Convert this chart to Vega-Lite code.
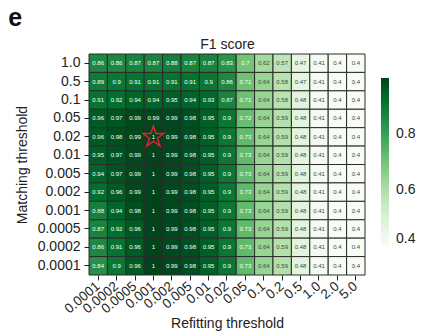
{
  "$schema": "https://vega.github.io/schema/vega-lite/v6.json",
  "width": 276,
  "height": 221,
  "padding": {"left": 8, "top": 6, "right": 5, "bottom": 5},
  "title": {
    "text": "e",
    "anchor": "start",
    "frame": "bounds",
    "fontSize": 25,
    "fontWeight": "bold",
    "color": "#111",
    "dx": -7,
    "offset": 6
  },
  "config": {
    "font": "Liberation Sans",
    "view": {"stroke": null},
    "axis": {
      "labelFontSize": 14,
      "titleFontSize": 14,
      "titleFontWeight": "normal",
      "labelColor": "#222",
      "titleColor": "#222",
      "tickColor": "#222",
      "domain": false,
      "grid": false
    }
  },
  "data": {
    "values": [
      {"m": "1.0", "r": "0.0001", "f1": 0.86}, {"m": "1.0", "r": "0.0002", "f1": 0.86}, {"m": "1.0", "r": "0.0005", "f1": 0.87}, {"m": "1.0", "r": "0.001", "f1": 0.87}, {"m": "1.0", "r": "0.002", "f1": 0.88}, {"m": "1.0", "r": "0.005", "f1": 0.87}, {"m": "1.0", "r": "0.01", "f1": 0.87}, {"m": "1.0", "r": "0.02", "f1": 0.83}, {"m": "1.0", "r": "0.05", "f1": 0.7}, {"m": "1.0", "r": "0.1", "f1": 0.62}, {"m": "1.0", "r": "0.2", "f1": 0.57}, {"m": "1.0", "r": "0.5", "f1": 0.47}, {"m": "1.0", "r": "1.0", "f1": 0.41}, {"m": "1.0", "r": "2.0", "f1": 0.4}, {"m": "1.0", "r": "5.0", "f1": 0.4},
      {"m": "0.5", "r": "0.0001", "f1": 0.89}, {"m": "0.5", "r": "0.0002", "f1": 0.9}, {"m": "0.5", "r": "0.0005", "f1": 0.91}, {"m": "0.5", "r": "0.001", "f1": 0.91}, {"m": "0.5", "r": "0.002", "f1": 0.91}, {"m": "0.5", "r": "0.005", "f1": 0.91}, {"m": "0.5", "r": "0.01", "f1": 0.9}, {"m": "0.5", "r": "0.02", "f1": 0.86}, {"m": "0.5", "r": "0.05", "f1": 0.71}, {"m": "0.5", "r": "0.1", "f1": 0.64}, {"m": "0.5", "r": "0.2", "f1": 0.58}, {"m": "0.5", "r": "0.5", "f1": 0.47}, {"m": "0.5", "r": "1.0", "f1": 0.41}, {"m": "0.5", "r": "2.0", "f1": 0.4}, {"m": "0.5", "r": "5.0", "f1": 0.4},
      {"m": "0.1", "r": "0.0001", "f1": 0.91}, {"m": "0.1", "r": "0.0002", "f1": 0.92}, {"m": "0.1", "r": "0.0005", "f1": 0.94}, {"m": "0.1", "r": "0.001", "f1": 0.94}, {"m": "0.1", "r": "0.002", "f1": 0.95}, {"m": "0.1", "r": "0.005", "f1": 0.94}, {"m": "0.1", "r": "0.01", "f1": 0.93}, {"m": "0.1", "r": "0.02", "f1": 0.87}, {"m": "0.1", "r": "0.05", "f1": 0.71}, {"m": "0.1", "r": "0.1", "f1": 0.64}, {"m": "0.1", "r": "0.2", "f1": 0.58}, {"m": "0.1", "r": "0.5", "f1": 0.48}, {"m": "0.1", "r": "1.0", "f1": 0.41}, {"m": "0.1", "r": "2.0", "f1": 0.4}, {"m": "0.1", "r": "5.0", "f1": 0.4},
      {"m": "0.05", "r": "0.0001", "f1": 0.96}, {"m": "0.05", "r": "0.0002", "f1": 0.97}, {"m": "0.05", "r": "0.0005", "f1": 0.99}, {"m": "0.05", "r": "0.001", "f1": 0.99}, {"m": "0.05", "r": "0.002", "f1": 0.99}, {"m": "0.05", "r": "0.005", "f1": 0.98}, {"m": "0.05", "r": "0.01", "f1": 0.95}, {"m": "0.05", "r": "0.02", "f1": 0.9}, {"m": "0.05", "r": "0.05", "f1": 0.72}, {"m": "0.05", "r": "0.1", "f1": 0.64}, {"m": "0.05", "r": "0.2", "f1": 0.59}, {"m": "0.05", "r": "0.5", "f1": 0.48}, {"m": "0.05", "r": "1.0", "f1": 0.41}, {"m": "0.05", "r": "2.0", "f1": 0.4}, {"m": "0.05", "r": "5.0", "f1": 0.4},
      {"m": "0.02", "r": "0.0001", "f1": 0.96}, {"m": "0.02", "r": "0.0002", "f1": 0.98}, {"m": "0.02", "r": "0.0005", "f1": 0.99}, {"m": "0.02", "r": "0.001", "f1": 1, "chosen": true}, {"m": "0.02", "r": "0.002", "f1": 0.99}, {"m": "0.02", "r": "0.005", "f1": 0.98}, {"m": "0.02", "r": "0.01", "f1": 0.95}, {"m": "0.02", "r": "0.02", "f1": 0.9}, {"m": "0.02", "r": "0.05", "f1": 0.73}, {"m": "0.02", "r": "0.1", "f1": 0.64}, {"m": "0.02", "r": "0.2", "f1": 0.59}, {"m": "0.02", "r": "0.5", "f1": 0.48}, {"m": "0.02", "r": "1.0", "f1": 0.41}, {"m": "0.02", "r": "2.0", "f1": 0.4}, {"m": "0.02", "r": "5.0", "f1": 0.4},
      {"m": "0.01", "r": "0.0001", "f1": 0.95}, {"m": "0.01", "r": "0.0002", "f1": 0.97}, {"m": "0.01", "r": "0.0005", "f1": 0.99}, {"m": "0.01", "r": "0.001", "f1": 1}, {"m": "0.01", "r": "0.002", "f1": 0.99}, {"m": "0.01", "r": "0.005", "f1": 0.98}, {"m": "0.01", "r": "0.01", "f1": 0.95}, {"m": "0.01", "r": "0.02", "f1": 0.9}, {"m": "0.01", "r": "0.05", "f1": 0.73}, {"m": "0.01", "r": "0.1", "f1": 0.64}, {"m": "0.01", "r": "0.2", "f1": 0.59}, {"m": "0.01", "r": "0.5", "f1": 0.48}, {"m": "0.01", "r": "1.0", "f1": 0.41}, {"m": "0.01", "r": "2.0", "f1": 0.4}, {"m": "0.01", "r": "5.0", "f1": 0.4},
      {"m": "0.005", "r": "0.0001", "f1": 0.94}, {"m": "0.005", "r": "0.0002", "f1": 0.97}, {"m": "0.005", "r": "0.0005", "f1": 0.99}, {"m": "0.005", "r": "0.001", "f1": 1}, {"m": "0.005", "r": "0.002", "f1": 0.99}, {"m": "0.005", "r": "0.005", "f1": 0.98}, {"m": "0.005", "r": "0.01", "f1": 0.95}, {"m": "0.005", "r": "0.02", "f1": 0.9}, {"m": "0.005", "r": "0.05", "f1": 0.73}, {"m": "0.005", "r": "0.1", "f1": 0.64}, {"m": "0.005", "r": "0.2", "f1": 0.59}, {"m": "0.005", "r": "0.5", "f1": 0.48}, {"m": "0.005", "r": "1.0", "f1": 0.41}, {"m": "0.005", "r": "2.0", "f1": 0.4}, {"m": "0.005", "r": "5.0", "f1": 0.4},
      {"m": "0.002", "r": "0.0001", "f1": 0.92}, {"m": "0.002", "r": "0.0002", "f1": 0.96}, {"m": "0.002", "r": "0.0005", "f1": 0.99}, {"m": "0.002", "r": "0.001", "f1": 1}, {"m": "0.002", "r": "0.002", "f1": 0.99}, {"m": "0.002", "r": "0.005", "f1": 0.98}, {"m": "0.002", "r": "0.01", "f1": 0.95}, {"m": "0.002", "r": "0.02", "f1": 0.9}, {"m": "0.002", "r": "0.05", "f1": 0.73}, {"m": "0.002", "r": "0.1", "f1": 0.64}, {"m": "0.002", "r": "0.2", "f1": 0.59}, {"m": "0.002", "r": "0.5", "f1": 0.48}, {"m": "0.002", "r": "1.0", "f1": 0.41}, {"m": "0.002", "r": "2.0", "f1": 0.4}, {"m": "0.002", "r": "5.0", "f1": 0.4},
      {"m": "0.001", "r": "0.0001", "f1": 0.88}, {"m": "0.001", "r": "0.0002", "f1": 0.94}, {"m": "0.001", "r": "0.0005", "f1": 0.98}, {"m": "0.001", "r": "0.001", "f1": 1}, {"m": "0.001", "r": "0.002", "f1": 0.99}, {"m": "0.001", "r": "0.005", "f1": 0.98}, {"m": "0.001", "r": "0.01", "f1": 0.95}, {"m": "0.001", "r": "0.02", "f1": 0.9}, {"m": "0.001", "r": "0.05", "f1": 0.73}, {"m": "0.001", "r": "0.1", "f1": 0.64}, {"m": "0.001", "r": "0.2", "f1": 0.59}, {"m": "0.001", "r": "0.5", "f1": 0.48}, {"m": "0.001", "r": "1.0", "f1": 0.41}, {"m": "0.001", "r": "2.0", "f1": 0.4}, {"m": "0.001", "r": "5.0", "f1": 0.4},
      {"m": "0.0005", "r": "0.0001", "f1": 0.87}, {"m": "0.0005", "r": "0.0002", "f1": 0.92}, {"m": "0.0005", "r": "0.0005", "f1": 0.96}, {"m": "0.0005", "r": "0.001", "f1": 1}, {"m": "0.0005", "r": "0.002", "f1": 0.99}, {"m": "0.0005", "r": "0.005", "f1": 0.98}, {"m": "0.0005", "r": "0.01", "f1": 0.95}, {"m": "0.0005", "r": "0.02", "f1": 0.9}, {"m": "0.0005", "r": "0.05", "f1": 0.73}, {"m": "0.0005", "r": "0.1", "f1": 0.64}, {"m": "0.0005", "r": "0.2", "f1": 0.59}, {"m": "0.0005", "r": "0.5", "f1": 0.48}, {"m": "0.0005", "r": "1.0", "f1": 0.41}, {"m": "0.0005", "r": "2.0", "f1": 0.4}, {"m": "0.0005", "r": "5.0", "f1": 0.4},
      {"m": "0.0002", "r": "0.0001", "f1": 0.86}, {"m": "0.0002", "r": "0.0002", "f1": 0.91}, {"m": "0.0002", "r": "0.0005", "f1": 0.96}, {"m": "0.0002", "r": "0.001", "f1": 1}, {"m": "0.0002", "r": "0.002", "f1": 0.99}, {"m": "0.0002", "r": "0.005", "f1": 0.98}, {"m": "0.0002", "r": "0.01", "f1": 0.95}, {"m": "0.0002", "r": "0.02", "f1": 0.9}, {"m": "0.0002", "r": "0.05", "f1": 0.73}, {"m": "0.0002", "r": "0.1", "f1": 0.64}, {"m": "0.0002", "r": "0.2", "f1": 0.59}, {"m": "0.0002", "r": "0.5", "f1": 0.48}, {"m": "0.0002", "r": "1.0", "f1": 0.41}, {"m": "0.0002", "r": "2.0", "f1": 0.4}, {"m": "0.0002", "r": "5.0", "f1": 0.4},
      {"m": "0.0001", "r": "0.0001", "f1": 0.84}, {"m": "0.0001", "r": "0.0002", "f1": 0.9}, {"m": "0.0001", "r": "0.0005", "f1": 0.96}, {"m": "0.0001", "r": "0.001", "f1": 1}, {"m": "0.0001", "r": "0.002", "f1": 0.99}, {"m": "0.0001", "r": "0.005", "f1": 0.98}, {"m": "0.0001", "r": "0.01", "f1": 0.95}, {"m": "0.0001", "r": "0.02", "f1": 0.9}, {"m": "0.0001", "r": "0.05", "f1": 0.73}, {"m": "0.0001", "r": "0.1", "f1": 0.64}, {"m": "0.0001", "r": "0.2", "f1": 0.59}, {"m": "0.0001", "r": "0.5", "f1": 0.48}, {"m": "0.0001", "r": "1.0", "f1": 0.41}, {"m": "0.0001", "r": "2.0", "f1": 0.4}, {"m": "0.0001", "r": "5.0", "f1": 0.4}
    ]
  },
  "encoding": {
    "y": {
      "field": "m",
      "type": "ordinal",
      "sort": ["1.0", "0.5", "0.1", "0.05", "0.02", "0.01", "0.005", "0.002", "0.001", "0.0005", "0.0002", "0.0001"],
      "title": "Matching threshold",
      "axis": {"tickSize": 5, "labelPadding": 4, "titlePadding": 8}
    }
  },
  "layer": [
    {
      "mark": {"type": "rect", "stroke": "#2b2b2b", "strokeWidth": 1},
      "encoding": {
        "x": {
          "field": "r",
          "type": "ordinal",
          "sort": ["0.0001", "0.0002", "0.0005", "0.001", "0.002", "0.005", "0.01", "0.02", "0.05", "0.1", "0.2", "0.5", "1.0", "2.0", "5.0"],
          "title": "Refitting threshold",
          "axis": {"labelAngle": -40, "labelAlign": "right", "labelBaseline": "middle", "labelFontSize": 13.5, "tickSize": 5, "labelPadding": 4, "titlePadding": 1}
        },
        "color": {
          "field": "f1",
          "type": "quantitative",
          "scale": {
            "domain": [0.4, 0.475, 0.55, 0.625, 0.7, 0.775, 0.85, 0.925, 1.0],
            "range": ["#f7fcf5", "#e5f5e0", "#c7e9c0", "#a1d99b", "#74c476", "#41ab5d", "#238b45", "#006d2c", "#00441b"],
            "interpolate": "rgb"
          },
          "legend": {
            "title": null,
            "orient": "none",
            "legendX": 292,
            "legendY": 24,
            "direction": "vertical",
            "gradientLength": 168,
            "gradientThickness": 8,
            "gradientStrokeWidth": 0,
            "values": [0.4, 0.6, 0.8],
            "labelFontSize": 14,
            "labelColor": "#222",
            "labelOffset": 7,
            "padding": 0
          }
        }
      }
    },
    {
      "mark": {"type": "text", "fontSize": 6},
      "encoding": {
        "x": {
          "field": "r",
          "type": "ordinal",
          "sort": ["0.0001", "0.0002", "0.0005", "0.001", "0.002", "0.005", "0.01", "0.02", "0.05", "0.1", "0.2", "0.5", "1.0", "2.0", "5.0"],
          "title": "F1 score",
          "axis": {"orient": "top", "labels": false, "ticks": false, "titlePadding": 3}
        },
        "text": {"field": "f1", "type": "quantitative", "format": "~g"},
        "color": {
          "condition": {"test": "datum.f1 > 0.68", "value": "#ffffff"},
          "value": "#444444"
        }
      }
    },
    {
      "transform": [{"filter": "datum.chosen === true"}],
      "mark": {
        "type": "point",
        "shape": "M0,-1L0.225,-0.309L0.951,-0.309L0.363,0.118L0.588,0.809L0,0.382L-0.588,0.809L-0.363,0.118L-0.951,-0.309L-0.225,-0.309Z",
        "size": 480,
        "filled": false,
        "stroke": "#e8202a",
        "strokeWidth": 1.5,
        "opacity": 1
      },
      "encoding": {
        "x": {
          "field": "r",
          "type": "ordinal",
          "sort": ["0.0001", "0.0002", "0.0005", "0.001", "0.002", "0.005", "0.01", "0.02", "0.05", "0.1", "0.2", "0.5", "1.0", "2.0", "5.0"],
          "axis": null
        }
      }
    }
  ],
  "resolve": {"axis": {"x": "independent"}}
}
